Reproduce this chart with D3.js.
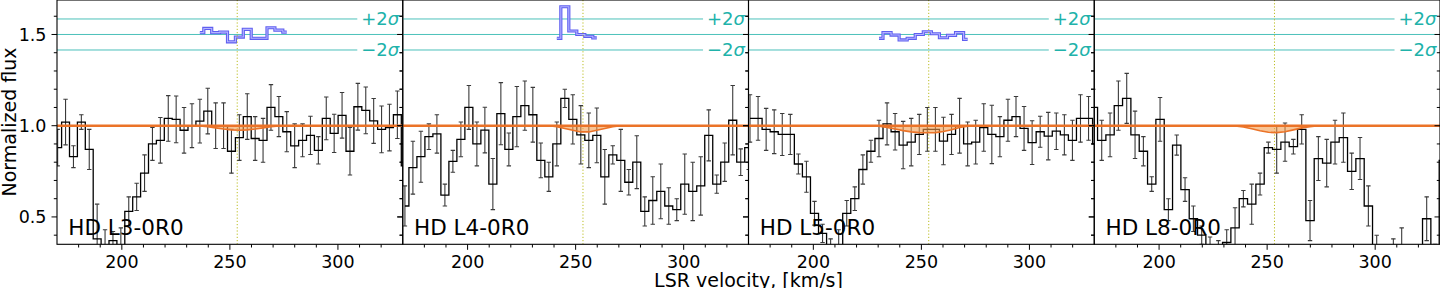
<!DOCTYPE html>
<html>
<head>
<meta charset="utf-8">
<script src="https://cdn.jsdelivr.net/npm/d3@7"></script>
<style>
  body { margin: 0; background: #fff; }
  svg { display: block; font-family: "DejaVu Sans", sans-serif; }
</style>
</head>
<body>
<div id="chart"></div>
<script>
// ---- data ----
const labels = ["HD L3-0R0", "HD L4-0R0", "HD L5-0R0", "HD L8-0R0"];
// spectral pixel grid of each transition (first bin centre, bin width in km/s)
const vStart = [170.3, 171.0, 170.7, 169.6];
const vStep = [3.656, 3.70, 3.73, 3.856];

const flux1 = [0.88, 1.02, 0.83, 1.02, 0.87, 0.38, 0.30, 0.37, 0.32, 0.53, 0.61, 0.74, 0.90, 0.92, 1.04,
  1.035, 0.975, 1.00, 1.025, 1.08, 1.0, 1.0, 0.86, 0.935, 1.05, 0.93, 0.92, 1.10, 1.05, 0.967, 0.89,
  0.92, 0.947, 0.865, 1.04, 0.958, 1.057, 0.86, 1.104, 1.084, 1.026, 0.98, 0.99, 1.06, 0.78];
const err1 = [0.10, 0.125, 0.06, 0.04, 0.11, 0.19, 0.13, 0.05, 0.12, 0.08, 0.075, 0.10, 0.09, 0.125, 0.125,
  0.128, 0.125, 0.12, 0.12, 0.125, 0.125, 0.125, 0.12, 0.125, 0.125, 0.12, 0.12, 0.125, 0.11, 0.11, 0.12,
  0.09, 0.105, 0.075, 0.117, 0.105, 0.125, 0.13, 0.128, 0.128, 0.123, 0.128, 0.128, 0.13, 0.12];

const flux2 = [0.56, 0.77, 0.83, 0.94, 0.955, 0.62, 0.805, 0.925, 1.10, 0.90, 0.976, 0.68, 1.066, 0.87, 1.05,
  1.11, 1.06, 0.81, 0.72, 0.90, 1.15, 1.035, 0.95, 0.92, 0.947, 0.72, 0.84, 0.81, 0.69, 0.80, 0.53,
  0.59, 0.64, 0.56, 0.54, 0.68, 0.64, 0.67, 0.947, 0.68, 0.80, 1.03, 0.80, 0.88];
const err2 = [0.11, 0.145, 0.14, 0.07, 0.105, 0.06, 0.06, 0.095, 0.12, 0.12, 0.125, 0.14, 0.17, 0.09, 0.165,
  0.135, 0.15, 0.095, 0.08, 0.12, 0.05, 0.135, 0.16, 0.15, 0.15, 0.15, 0.05, 0.17, 0.07, 0.145, 0.08,
  0.13, 0.15, 0.10, 0.06, 0.165, 0.16, 0.16, 0.14, 0.05, 0.105, 0.19, 0.073, 0.12];

const flux3 = [1.04, 1.04, 0.98, 0.967, 0.952, 0.952, 0.79, 0.72, 0.52, 0.41, 0.32, 0.33, 0.52, 0.60, 0.76,
  0.86, 0.93, 1.01, 0.967, 0.894, 0.91, 0.952, 0.98, 0.98, 0.916, 0.952, 1.0, 0.90, 0.91, 0.99, 0.952,
  0.94, 1.03, 1.05, 0.985, 0.907, 0.967, 0.943, 0.97, 0.95, 0.92, 1.04, 1.04, 0.90];
const err3 = [0.13, 0.12, 0.115, 0.12, 0.115, 0.11, 0.055, 0.085, 0.065, 0.05, 0.06, 0.10, 0.07, 0.065, 0.08,
  0.06, 0.10, 0.115, 0.10, 0.13, 0.13, 0.11, 0.12, 0.12, 0.13, 0.11, 0.15, 0.12, 0.12, 0.13, 0.16,
  0.11, 0.115, 0.11, 0.12, 0.12, 0.085, 0.13, 0.10, 0.11, 0.11, 0.13, 0.12, 0.12];

const flux4 = [1.10, 0.92, 0.95, 1.11, 1.15, 0.95, 0.86, 0.68, 1.035, 0.54, 0.894, 0.65, 0.49, 0.40, 0.33,
  0.30, 0.36, 0.44, 0.60, 0.57, 0.68, 0.88, 0.87, 0.91, 0.885, 0.98, 0.48, 0.82, 0.795, 0.91, 0.935,
  0.75, 0.82, 0.56, 0.32, 0.20, 0.29, 0.30, 0.20, 0.25, 0.49, 0.25, 0.81];
const err4 = [0.10, 0.11, 0.12, 0.135, 0.137, 0.13, 0.08, 0.04, 0.12, 0.06, 0.055, 0.065, 0.07, 0.05, 0.06,
  0.07, 0.07, 0.11, 0.045, 0.11, 0.06, 0.03, 0.13, 0.105, 0.04, 0.08, 0.11, 0.12, 0.13, 0.12, 0.135,
  0.10, 0.115, 0.11, 0.08, 0.08, 0.09, 0.14, 0.08, 0.08, 0.12, 0.10, 0.10];

// residual-like step trace drawn around 1.5 (bin index where it starts)
const blue1 = [1.51, 1.533, 1.51, 1.513, 1.46, 1.486, 1.528, 1.479, 1.479, 1.537, 1.524, 1.513];
const blue2 = [1.479, 1.652, 1.519, 1.50, 1.49, 1.481];
const blue3 = [1.479, 1.51, 1.497, 1.47, 1.479, 1.50, 1.515, 1.504, 1.482, 1.495, 1.51, 1.473];
const blueFrom = [18, 19, 16, null];

// model absorption dip (continuum = 1 elsewhere)
const dip1 = [1.0, 0.998, 0.994, 0.988, 0.982, 0.977, 0.975, 0.977, 0.982, 0.988, 0.994, 0.998, 1.0];
const dip2 = [1.0, 0.995, 0.985, 0.975, 0.966, 0.966, 0.975, 0.985, 0.995, 1.0];
const dip3 = [1.0, 0.997, 0.99, 0.982, 0.973, 0.966, 0.962, 0.961, 0.962, 0.968, 0.978, 0.99, 0.997, 1.0];
const dip4 = [1.0, 0.998, 0.993, 0.983, 0.972, 0.964, 0.962, 0.967, 0.977, 0.988, 0.995, 1.0];
const dipFrom = [17, 18, 15, 16];

const vSys = 253.4;
const sigmaMid = 1.5, sigmaHi = 1.585, sigmaLo = 1.415;
const xDomain = [170, 330];
const yDomain = [0.35, 1.689];
const xMajor = [200, 250, 300];
const xMinor = [180, 190, 210, 220, 230, 240, 260, 270, 280, 290, 310, 320];
const yMajor = [0.5, 1.0, 1.5];
const yMinor = [0.4, 0.6, 0.7, 0.8, 0.9, 1.1, 1.2, 1.3, 1.4, 1.6];

const fluxes = [flux1, flux2, flux3, flux4];
const errs = [err1, err2, err3, err4];
const blues = [blue1, blue2, blue3, null];
const dips = [dip1, dip2, dip3, dip4];

// ---- layout ----
const width = 1440, height = 288;
const left = 57, plotH = 244.3;
const panelW = (width - left) / 4;

const teal = "#20b2aa", orange = "#eb7328";

const svg = d3.select("#chart").append("svg")
  .attr("width", width).attr("height", height);

const y = d3.scaleLinear().domain(yDomain).range([plotH, 0]);
const x = d3.scaleLinear().domain(xDomain).range([0, panelW]);

labels.forEach((lab, k) => {
  const g = svg.append("g").attr("transform", `translate(${left + k * panelW},0)`);

  g.append("clipPath").attr("id", "clip" + k)
    .append("rect").attr("width", panelW).attr("height", plotH);
  const body = g.append("g").attr("clip-path", `url(#clip${k})`);

  const vel = fluxes[k].map((f, i) => vStart[k] + i * vStep[k]);
  const pts = fluxes[k].map((f, i) => ({v: vel[i], f: f, e: errs[k][i]}));

  // sigma guide lines + labels
  [[sigmaHi, "+2"], [sigmaLo, "\u22122"]].forEach(([lv, txt]) => {
    const t = body.append("text")
      .attr("x", panelW - 3.5).attr("y", y(lv) + 6.5)
      .attr("text-anchor", "end").attr("font-size", "18px").attr("fill", teal);
    t.append("tspan").text(txt);
    t.append("tspan").attr("font-style", "italic").text("σ");
    const tw = t.node().getComputedTextLength();
    body.append("line")
      .attr("x1", 0).attr("x2", panelW - 3.5 - tw - 4)
      .attr("y1", y(lv)).attr("y2", y(lv))
      .attr("stroke", teal).attr("stroke-width", 1).attr("opacity", 0.8);
  });
  body.append("line")
    .attr("x1", 0).attr("x2", panelW)
    .attr("y1", y(sigmaMid)).attr("y2", y(sigmaMid))
    .attr("stroke", teal).attr("stroke-width", 1).attr("opacity", 0.8);

  // blue step trace
  if (blues[k]) {
    const bp = blues[k].map((b, i) => ({v: vel[blueFrom[k] + i], f: b}));
    const bline = d3.line().x(d => x(d.v)).y(d => y(d.f)).curve(d3.curveStep);
    body.append("path").datum(bp).attr("d", bline)
      .attr("fill", "none").attr("stroke", "#5f5ff0").attr("stroke-width", 3.2);
    body.append("path").datum(bp).attr("d", bline)
      .attr("fill", "none").attr("stroke", "#b4b4ff").attr("stroke-width", 1.1);
  }

  // systemic velocity marker
  body.append("line")
    .attr("x1", x(vSys)).attr("x2", x(vSys))
    .attr("y1", 0).attr("y2", plotH)
    .attr("stroke", "#bcbd22").attr("stroke-width", 1)
    .attr("stroke-dasharray", "1.2,2");

  // error bars
  const eb = body.append("g").attr("stroke", "#3a3a3a").attr("stroke-width", 1.1);
  pts.forEach(d => {
    const cx = x(d.v);
    eb.append("line").attr("x1", cx).attr("x2", cx)
      .attr("y1", y(d.f - d.e)).attr("y2", y(d.f + d.e));
    [d.f - d.e, d.f + d.e].forEach(c => {
      eb.append("line").attr("x1", cx - 2.2).attr("x2", cx + 2.2)
        .attr("y1", y(c)).attr("y2", y(c));
    });
  });

  // histogram of the spectrum
  body.append("path").datum(pts)
    .attr("d", d3.line().x(d => x(d.v)).y(d => y(d.f)).curve(d3.curveStep))
    .attr("fill", "none").attr("stroke", "#000").attr("stroke-width", 1.3);

  // model
  const mp = dips[k].map((m, i) => ({v: vel[dipFrom[k] + i], f: m}));
  body.append("path").datum(mp)
    .attr("d", d3.area().x(d => x(d.v)).y0(y(1.0)).y1(d => y(d.f)))
    .attr("fill", "#f39c4f").attr("opacity", 0.6);
  body.append("path").datum(mp)
    .attr("d", d3.line().x(d => x(d.v)).y(d => y(d.f)))
    .attr("fill", "none").attr("stroke", orange).attr("stroke-width", 1.6);
  body.append("line")
    .attr("x1", 0).attr("x2", panelW)
    .attr("y1", y(1.0)).attr("y2", y(1.0))
    .attr("stroke", orange).attr("stroke-width", 2.6);

  // ticks
  const tk = g.append("g").attr("stroke", "#000").attr("stroke-width", 1);
  yMajor.concat(yMinor).forEach(t => {
    const len = yMajor.includes(t) ? 5.5 : 3.2;
    tk.append("line").attr("x1", -len).attr("x2", 0).attr("y1", y(t)).attr("y2", y(t));
    tk.append("line").attr("x1", panelW - len).attr("x2", panelW).attr("y1", y(t)).attr("y2", y(t));
  });
  xMajor.concat(xMinor).forEach(t => {
    const len = xMajor.includes(t) ? 5.5 : 3.2;
    tk.append("line").attr("x1", x(t)).attr("x2", x(t)).attr("y1", plotH).attr("y2", plotH + len);
  });

  g.selectAll(".xl").data(xMajor).enter().append("text")
    .attr("x", d => x(d)).attr("y", 268)
    .attr("text-anchor", "middle").attr("font-size", "17.5px")
    .text(d => d);

  if (k === 0) {
    g.selectAll(".yl").data(yMajor).enter().append("text")
      .attr("x", -10.5).attr("y", d => y(d)).attr("dy", "0.36em")
      .attr("text-anchor", "end").attr("font-size", "17.5px")
      .text(d => d.toFixed(1));
  }

  // frame
  g.append("rect").attr("width", panelW).attr("height", plotH)
    .attr("fill", "none").attr("stroke", "#000").attr("stroke-width", 1.1);

  g.append("text").attr("x", 11.3).attr("y", 235)
    .attr("font-size", "21.5px").attr("fill", "#000").text(lab);
});

svg.append("text")
  .attr("x", left + 2 * panelW).attr("y", 287)
  .attr("text-anchor", "middle").attr("font-size", "19px")
  .text("LSR velocity, [km/s]");

svg.append("text")
  .attr("transform", "translate(16,122) rotate(-90)")
  .attr("text-anchor", "middle").attr("font-size", "19px")
  .text("Normalized flux");
</script>
</body>
</html>
